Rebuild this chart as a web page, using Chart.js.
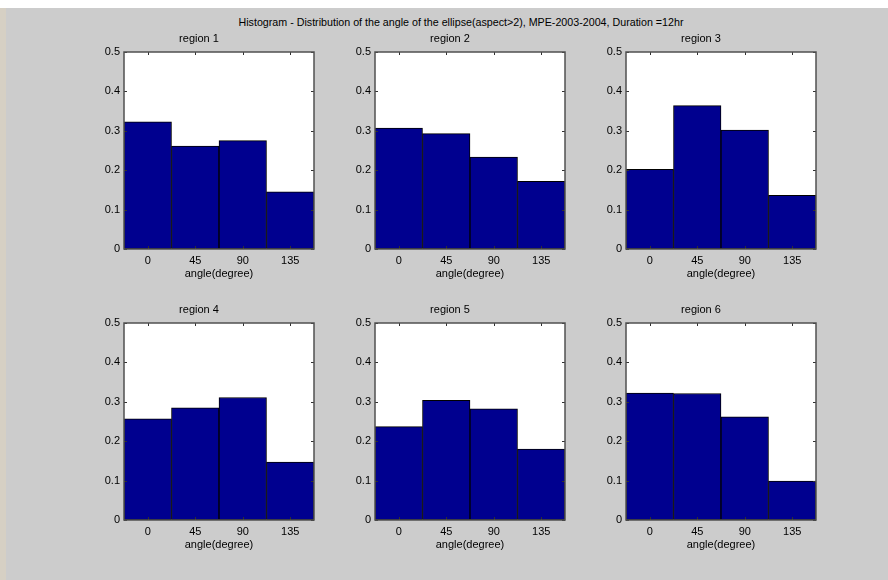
<!DOCTYPE html>
<html lang="en">
<head>
    <meta charset="UTF-8">
    <title>Histogram - angle of the ellipse</title>
    <script src="https://cdn.jsdelivr.net/npm/chart.js"></script>
    <style>
        body {
            margin: 0;
            width: 888px;
            height: 580px;
            background-color: #cccccc;
            position: relative;
            overflow: hidden;
            font-family: "Liberation Sans", Arial, sans-serif;
        }
        .topband {
            position: absolute;
            left: 0; top: 0;
            width: 888px; height: 8px;
            background-color: #ffffff;
        }
        .leftband {
            position: absolute;
            left: 0; top: 8px;
            width: 6px; height: 572px;
            background-color: #d6d0c4;
        }
        .main-title {
            position: absolute;
            top: 15px;
            left: 0;
            width: 922px;
            text-align: center;
            font-size: 10.7px;
            line-height: 14px;
            color: #000;
            white-space: nowrap;
        }
        canvas {
            position: absolute;
        }
    </style>
</head>
<body>
    <div class="topband"></div>
    <div class="leftband"></div>
    <div class="main-title">Histogram - Distribution of the angle of the ellipse(aspect&gt;2), MPE-2003-2004, Duration =12hr</div>

    <canvas id="r1" width="240" height="267" style="left:84px; top:22px;"></canvas>
    <canvas id="r2" width="240" height="267" style="left:335px; top:22px;"></canvas>
    <canvas id="r3" width="240" height="267" style="left:586px; top:22px;"></canvas>
    <canvas id="r4" width="240" height="267" style="left:84px; top:293px;"></canvas>
    <canvas id="r5" width="240" height="267" style="left:335px; top:293px;"></canvas>
    <canvas id="r6" width="240" height="267" style="left:586px; top:293px;"></canvas>

    <script>
        // datos
        const angles = ['0', '45', '90', '135'];
        const region1 = [0.323, 0.261, 0.275, 0.145];
        const region2 = [0.307, 0.293, 0.233, 0.172];
        const region3 = [0.202, 0.364, 0.302, 0.136];
        const region4 = [0.257, 0.285, 0.311, 0.147];
        const region5 = [0.237, 0.304, 0.282, 0.180];
        const region6 = [0.322, 0.321, 0.262, 0.099];
        const yTicks = [0, 0.1, 0.2, 0.3, 0.4, 0.5];

        const regions = [region1, region2, region3, region4, region5, region6];
        const fontFamily = '"Liberation Sans", Arial, sans-serif';

        // caja y marcas hacia dentro, estilo matlab
        const boxTicks = {
            id: 'boxTicks',
            afterDraw(chart) {
                const ctx = chart.ctx;
                const a = chart.chartArea;
                const xs = chart.scales.x;
                const ys = chart.scales.y;
                const len = 3;
                ctx.save();
                ctx.strokeStyle = '#303030';
                ctx.lineWidth = 1;
                ctx.beginPath();
                angles.forEach(function (lab, i) {
                    const x = Math.round(xs.getPixelForValue(i)) + 0.5;
                    ctx.moveTo(x, a.top);
                    ctx.lineTo(x, a.top + len);
                    ctx.moveTo(x, a.bottom);
                    ctx.lineTo(x, a.bottom - len);
                });
                yTicks.forEach(function (v) {
                    const y = Math.round(ys.getPixelForValue(v)) + 0.5;
                    ctx.moveTo(a.left, y);
                    ctx.lineTo(a.left + len, y);
                    ctx.moveTo(a.right, y);
                    ctx.lineTo(a.right - len, y);
                });
                ctx.stroke();
                ctx.strokeStyle = '#505050';
                ctx.lineWidth = 1.5;
                ctx.strokeRect(a.left, a.top, a.right - a.left, a.bottom - a.top);
                ctx.restore();
            }
        };

        const whiteArea = {
            id: 'whiteArea',
            beforeDraw(chart) {
                const a = chart.chartArea;
                chart.ctx.save();
                chart.ctx.fillStyle = '#ffffff';
                chart.ctx.fillRect(a.left, a.top, a.right - a.left, a.bottom - a.top);
                chart.ctx.restore();
            }
        };

        regions.forEach(function (values, i) {
            const ctx = document.getElementById('r' + (i + 1)).getContext('2d');
            new Chart(ctx, {
                type: 'bar',
                data: {
                    labels: angles,
                    datasets: [{
                        data: values,
                        backgroundColor: '#00008f',
                        borderColor: '#000000',
                        borderWidth: 1,
                        borderSkipped: false,
                        barPercentage: 1,
                        categoryPercentage: 1
                    }]
                },
                options: {
                    responsive: false,
                    animation: false,
                    devicePixelRatio: 1,
                    layout: { padding: { top: 0, right: 10, bottom: 0, left: 0 } },
                    plugins: {
                        legend: { display: false },
                        tooltip: { enabled: false },
                        title: {
                            display: true,
                            text: 'region ' + (i + 1),
                            color: '#000',
                            font: { family: fontFamily, size: 11, weight: 'normal' },
                            padding: { top: 10.4, bottom: 6.4 }
                        }
                    },
                    scales: {
                        x: {
                            type: 'category',
                            grid: { display: false, drawTicks: false },
                            border: { display: false },
                            ticks: {
                                color: '#000',
                                padding: 5,
                                font: { family: fontFamily, size: 11 }
                            },
                            title: {
                                display: true,
                                text: 'angle(degree)',
                                color: '#000',
                                font: { family: fontFamily, size: 11 },
                                padding: { top: 0, bottom: 8 }
                            },
                            afterFit: function (scale) { scale.height = 40; }
                        },
                        y: {
                            min: 0,
                            max: 0.5,
                            grid: { display: false, drawTicks: false },
                            border: { display: false },
                            afterBuildTicks: function (scale) {
                                scale.ticks = yTicks.map(function (v) { return { value: v }; });
                            },
                            ticks: {
                                color: '#000',
                                padding: 4,
                                font: { family: fontFamily, size: 11 },
                                callback: function (v) { return String(Math.round(v * 10) / 10); }
                            },
                            afterFit: function (scale) { scale.width = 40; }
                        }
                    }
                },
                plugins: [whiteArea, boxTicks]
            });
        });
    </script>
</body>
</html>
